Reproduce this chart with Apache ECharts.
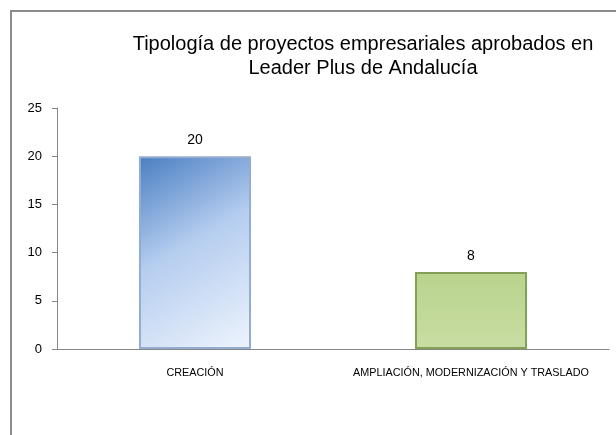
<!DOCTYPE html>
<html>
<head>
<meta charset="utf-8">
<script src="https://cdn.jsdelivr.net/npm/echarts@6/dist/echarts.min.js"></script>
<style>
  html, body { margin: 0; padding: 0; background: #fff; }
  #chart { width: 616px; height: 435px; }
</style>
</head>
<body>
<div id="chart"></div>
<script>
// datos del gráfico
const categorias = ["CREACIÓN", "AMPLIACIÓN, MODERNIZACIÓN Y TRASLADO"];
const proyectos = [20, 8];
const titulo = "Tipología de proyectos empresariales aprobados en\nLeader Plus de Andalucía";

const myChart = echarts.init(document.getElementById("chart"));

// estilo de barra con degradado en diagonal
const estilos = [
  {
    color: new echarts.graphic.LinearGradient(0, 0, 1, 1, [
      { offset: 0, color: "#4a7ec2" },
      { offset: 0.45, color: "#b5cdef" },
      { offset: 1, color: "#eef4fd" },
    ]),
    borderColor: "#94acd0",
    borderWidth: 2,
  },
  {
    color: new echarts.graphic.LinearGradient(0, 0, 0, 1, [
      { offset: 0, color: "#b9d38c" },
      { offset: 1, color: "#c8dda3" },
    ]),
    borderColor: "#849f58",
    borderWidth: 2,
  },
];

const option = {
  animation: false,
  graphic: [
    {
      type: "rect",
      shape: { x: 11, y: 11, width: 700, height: 600 },
      style: { fill: "none", stroke: "#8c8c8c", lineWidth: 2 },
      silent: true,
    },
  ],
  title: {
    text: titulo,
    left: 358,
    top: 27,
    textAlign: "center",
    textStyle: {
      fontFamily: "Liberation Sans",
      fontSize: 20,
      fontWeight: "normal",
      color: "#000",
      lineHeight: 24,
    },
  },
  grid: {
    left: 57,
    right: 7,
    top: 108,
    bottom: 86,
  },
  xAxis: {
    type: "category",
    data: categorias,
    axisLine: { lineStyle: { color: "#868686", width: 1 } },
    axisTick: { length: 4, lineStyle: { color: "#868686" } },
    axisLabel: {
      interval: 0,
      margin: 19,
      fontFamily: "Liberation Sans",
      fontSize: 10.8,
      color: "#000",
    },
  },
  yAxis: {
    type: "value",
    min: 0,
    max: 25,
    interval: 5,
    splitLine: { show: false },
    axisLine: { show: true, lineStyle: { color: "#868686", width: 1 } },
    axisTick: { show: true, length: 5, lineStyle: { color: "#868686" } },
    axisLabel: {
      margin: 15,
      fontFamily: "Liberation Sans",
      fontSize: 13,
      color: "#000",
    },
  },
  series: [
    {
      type: "bar",
      barWidth: "40.6%",
      data: proyectos.map((v, i) => ({ value: v, itemStyle: estilos[i] })),
      label: {
        show: true,
        position: "top",
        distance: 9,
        fontFamily: "Liberation Sans",
        fontSize: 14,
        color: "#000",
      },
    },
  ],
};
myChart.setOption(option);
</script>
</body>
</html>
